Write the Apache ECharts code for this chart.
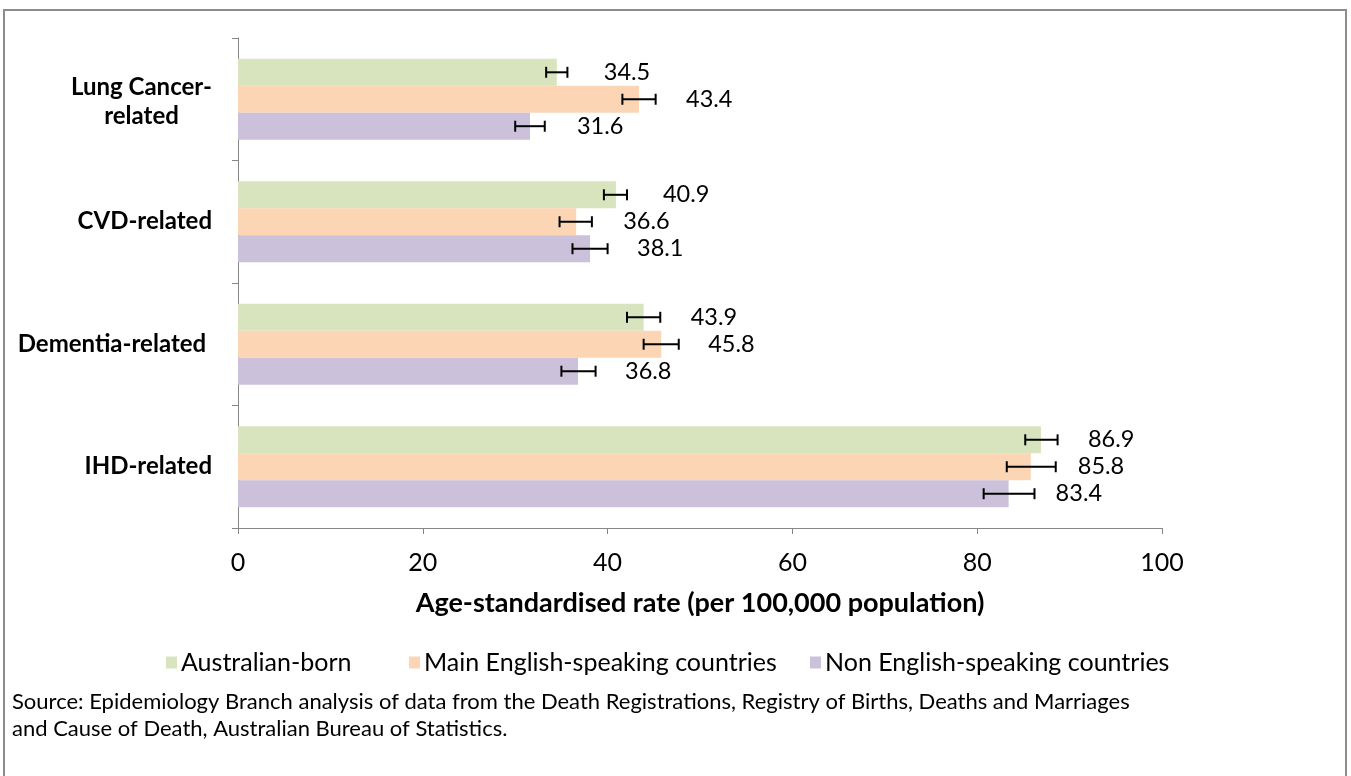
<!DOCTYPE html>
<html>
<head>
<meta charset="utf-8">
<script src="https://cdn.jsdelivr.net/npm/echarts@6/dist/echarts.min.js"></script>
<style>
html,body{margin:0;padding:0;background:#fff;}
#chart{width:1351px;height:776px;}
</style>
</head>
<body>
<div id="chart"></div>
<script>
const categories = ['Lung Cancer-related', 'CVD-related', 'Dementia-related ', 'IHD-related'];
const seriesNames = ['Australian-born', 'Main English-speaking countries', 'Non English-speaking countries'];
const ausBorn = [34.5, 40.9, 43.9, 86.9];
const ausBornLow = [33.35, 39.6, 42.1, 85.2];
const ausBornHigh = [35.65, 42.1, 45.7, 88.7];
const mainEng = [43.4, 36.6, 45.8, 85.8];
const mainEngLow = [41.6, 34.8, 43.9, 83.2];
const mainEngHigh = [45.2, 38.3, 47.7, 88.5];
const nonEng = [31.6, 38.1, 36.8, 83.4];
const nonEngLow = [30.0, 36.2, 35.0, 80.7];
const nonEngHigh = [33.2, 40.0, 38.7, 86.2];
const xTicks = [0, 20, 40, 60, 80, 100];
const sourceText = 'Source: Epidemiology Branch analysis of data from the Death Registrations, Registry of Births, Deaths and Marriages\nand Cause of Death, Australian Bureau of Statistics.';

const FONT = 'Lato';
const colors = ['#d7e4bd', '#fcd5b5', '#ccc1da'];
const values = [ausBorn, mainEng, nonEng];
const lows = [ausBornLow, mainEngLow, nonEngLow];
const highs = [ausBornHigh, mainEngHigh, nonEngHigh];
const CAT_GAP = 0.34;
const legendLefts = [161, 404, 805];

const chart = echarts.init(document.getElementById('chart'));

function errorSeries(si) {
  const data = categories.map((c, i) => [lows[si][i], highs[si][i], i]);
  return {
    type: 'custom',
    name: seriesNames[si] + ' error',
    z: 5,
    silent: true,
    encode: { x: [0, 1], y: 2 },
    renderItem: function (params, api) {
      const lo = api.coord([api.value(0), api.value(2)]);
      const hi = api.coord([api.value(1), api.value(2)]);
      const band = api.size([0, 1])[1];
      const bw = band * (1 - CAT_GAP) / 3;
      const y = lo[1] + (si - 1) * bw;
      const cap = 5.5;
      const st = { stroke: '#000', lineWidth: 2 };
      return {
        type: 'group',
        children: [
          { type: 'line', shape: { x1: lo[0], y1: y, x2: hi[0], y2: y }, style: st },
          { type: 'line', shape: { x1: lo[0], y1: y - cap, x2: lo[0], y2: y + cap }, style: st },
          { type: 'line', shape: { x1: hi[0], y1: y - cap, x2: hi[0], y2: y + cap }, style: st }
        ]
      };
    },
    data: data
  };
}

const barSeries = seriesNames.map((n, si) => ({
  type: 'bar',
  name: n,
  data: values[si],
  barGap: '0%',
  barCategoryGap: (CAT_GAP * 100) + '%',
  itemStyle: { color: colors[si] },
  label: {
    show: true,
    position: 'right',
    distance: 47,
    color: '#000',
    fontFamily: FONT,
    fontSize: 23.5,
    formatter: p => p.value.toFixed(1)
  }
}));

const legends = seriesNames.map((n, si) => ({
  data: [n],
  left: legendLefts[si],
  top: 645,
  icon: 'rect',
  itemWidth: 11,
  itemHeight: 12,
  itemGap: 0,
  textStyle: { fontFamily: FONT, fontSize: 25, color: '#000', padding: [0, 0, 0, -1] }
}));

const option = {
  animation: false,
  textStyle: { fontFamily: FONT },
  grid: { left: 238, right: 189, top: 38, bottom: 248 },
  legend: legends,
  xAxis: {
    type: 'value',
    min: xTicks[0],
    max: xTicks[xTicks.length - 1],
    interval: xTicks[1] - xTicks[0],
    name: 'Age-standardised rate (per 100,000 population)',
    nameLocation: 'middle',
    nameGap: 62,
    nameTextStyle: { fontFamily: FONT, fontSize: 27, fontWeight: 'bold', color: '#000' },
    axisLine: { show: true, lineStyle: { color: '#868686', width: 1 } },
    axisTick: { show: true, length: 6, lineStyle: { color: '#868686' } },
    splitLine: { show: false },
    axisLabel: { fontFamily: FONT, fontSize: 25, color: '#000', margin: 22 }
  },
  yAxis: {
    type: 'category',
    data: categories,
    inverse: true,
    axisLine: { show: true, lineStyle: { color: '#868686', width: 1 } },
    axisTick: { show: true, length: 6, lineStyle: { color: '#868686' } },
    axisLabel: {
      margin: 26,
      color: '#000',
      fontFamily: FONT,
      fontSize: 24,
      fontWeight: 'bold',
      formatter: function (v) {
        if (v.indexOf('Lung') === 0) return '{c|Lung Cancer-}\n{c|related}';
        return '{b|' + v + '}';
      },
      rich: {
        b: { fontFamily: FONT, fontSize: 24, fontWeight: 'bold', color: '#000' },
        c: { fontFamily: FONT, fontSize: 24, fontWeight: 'bold', color: '#000', width: 141, align: 'center', lineHeight: 29, padding: [5, 0, 0, 0] }
      }
    }
  },
  graphic: [
    { type: 'rect', shape: { x: 4, y: 10, width: 1342, height: 800 }, style: { fill: 'none', stroke: '#8c8c8c', lineWidth: 2 }, silent: true },
    { type: 'text', left: 12, top: 688, style: { text: sourceText, fontFamily: FONT, fontSize: 22, lineHeight: 27, fill: '#000' } }
  ],
  series: barSeries.concat([0, 1, 2].map(errorSeries))
};
chart.setOption(option);
</script>
</body>
</html>
